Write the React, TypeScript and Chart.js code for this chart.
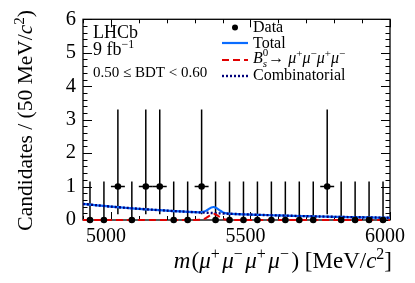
import React, { useEffect, useRef } from "react";
import { Chart, registerables } from "chart.js";
Chart.register(...registerables);

// ---- data ----
const binCenters = [4925, 4975, 5025, 5075, 5125, 5175, 5225, 5275, 5325, 5375, 5425, 5475, 5525, 5575, 5625, 5675, 5725, 5775, 5825, 5875, 5925, 5975];
const counts = [0, 0, 1, 0, 1, 1, 0, 0, 1, 0, 0, 0, 0, 0, 0, 0, 0, 1, 0, 0, 0, 0];
const errLow = [0, 0, 0.83, 0, 0.83, 0.83, 0, 0, 0.83, 0, 0, 0, 0, 0, 0, 0, 0, 0.83, 0, 0, 0, 0];
const errHigh = [1.15, 1.15, 2.3, 1.15, 2.3, 2.3, 1.15, 1.15, 2.3, 1.15, 1.15, 1.15, 1.15, 1.15, 1.15, 1.15, 1.15, 2.3, 1.15, 1.15, 1.15, 1.15];
const binHalfWidth = 25;

const curveMass = [4900, 4950, 5000, 5050, 5100, 5150, 5200, 5250, 5300, 5320, 5330, 5340, 5350, 5360, 5370, 5380, 5390, 5400, 5410, 5420, 5450, 5500, 5550, 5600, 5650, 5700, 5750, 5800, 5850, 5900, 5950, 6000];
const combinatorial = [0.48, 0.44, 0.40, 0.366, 0.335, 0.306, 0.28, 0.256, 0.234, 0.226, 0.222, 0.218, 0.214, 0.210, 0.207, 0.203, 0.199, 0.195, 0.192, 0.188, 0.178, 0.163, 0.149, 0.136, 0.125, 0.114, 0.104, 0.095, 0.087, 0.080, 0.073, 0.067];
const signalBs = [0, 0, 0, 0, 0, 0, 0, 0, 0, 0.005, 0.02, 0.055, 0.11, 0.165, 0.18, 0.145, 0.09, 0.04, 0.014, 0.004, 0, 0, 0, 0, 0, 0, 0, 0, 0, 0, 0, 0];
const total = [0.48, 0.44, 0.40, 0.366, 0.335, 0.306, 0.28, 0.256, 0.234, 0.231, 0.242, 0.273, 0.324, 0.375, 0.387, 0.348, 0.289, 0.235, 0.206, 0.192, 0.178, 0.163, 0.149, 0.136, 0.125, 0.114, 0.104, 0.095, 0.087, 0.080, 0.073, 0.067];

const xMin = 4900, xMax = 6000;
const yMin = 0, yMax = 6;
const xTickLabels = [5000, 5500, 6000];
const xMinorStep = 100;
const yTickLabels = [0, 1, 2, 3, 4, 5, 6];
const yMinorStep = 0.2;

const FONT = '"Liberation Serif", "Times New Roman", serif';
const BLUE = "#0a6cff";
const RED = "#e00000";
const NAVY = "#00007a";

type Seg = { t: string; it?: boolean; sup?: boolean; sub?: boolean; stack?: [string, string]; pad?: number };

function segFont(s: Seg, size: number, small: boolean) {
  return `${s.it ? "italic " : ""}${small ? Math.round(size * 0.68) : size}px ${FONT}`;
}

function segWidth(ctx: CanvasRenderingContext2D, s: Seg, size: number) {
  const pad = s.pad || 0;
  if (s.stack) {
    ctx.font = segFont({ t: "", it: true }, size, true);
    const a = ctx.measureText(s.stack[0]).width;
    ctx.font = segFont({ t: "", it: false }, size, true);
    const b = ctx.measureText(s.stack[1]).width;
    return Math.max(a, b) + pad;
  }
  ctx.font = segFont(s, size, !!(s.sup || s.sub));
  return ctx.measureText(s.t).width + pad;
}

function drawRich(ctx: CanvasRenderingContext2D, segs: Seg[], x: number, y: number, size: number, align: "left" | "right") {
  ctx.textBaseline = "alphabetic";
  ctx.textAlign = "left";
  let w = 0;
  for (const s of segs) w += segWidth(ctx, s, size);
  let cx = align === "right" ? x - w : x;
  for (const s of segs) {
    const sw = segWidth(ctx, s, size);
    if (s.stack) {
      ctx.font = segFont({ t: "", it: true }, size, true);
      ctx.fillText(s.stack[0], cx, y + size * 0.22);
      ctx.font = segFont({ t: "", it: false }, size, true);
      ctx.fillText(s.stack[1], cx, y - size * 0.42);
    } else {
      ctx.font = segFont(s, size, !!(s.sup || s.sub));
      const dy = s.sup ? -size * 0.38 : s.sub ? size * 0.22 : 0;
      ctx.fillText(s.t, cx, y + dy);
    }
    cx += sw;
  }
}

const muSegs = (pad: number): Seg[] => [
  { t: "\u03bc", it: true }, { t: "+", sup: true, pad },
  { t: "\u03bc", it: true }, { t: "\u2212", sup: true, pad },
  { t: "\u03bc", it: true }, { t: "+", sup: true, pad },
  { t: "\u03bc", it: true }, { t: "\u2212", sup: true, pad },
];

const decorPlugin = {
  id: "decor",
  beforeDatasetsDraw(chart: any) {
    const ctx: CanvasRenderingContext2D = chart.ctx;
    const xs = chart.scales.x, ys = chart.scales.y;
    const a = chart.chartArea;
    ctx.save();
    // frame and inward ticks
    ctx.strokeStyle = "#000";
    ctx.lineWidth = 1.3;
    ctx.strokeRect(a.left, a.top, a.right - a.left, a.bottom - a.top);
    ctx.lineWidth = 1;
    for (let v = xMin; v <= xMax + 1e-6; v += xMinorStep) {
      const major = xTickLabels.includes(Math.round(v));
      const len = major ? 8 : 4;
      const px = Math.round(xs.getPixelForValue(v)) + 0.5;
      ctx.beginPath();
      ctx.moveTo(px, a.bottom); ctx.lineTo(px, a.bottom - len);
      ctx.moveTo(px, a.top); ctx.lineTo(px, a.top + len);
      ctx.stroke();
    }
    for (let k = 0; k <= Math.round((yMax - yMin) / yMinorStep); k++) {
      const v = yMin + k * yMinorStep;
      const major = Math.abs(v - Math.round(v)) < 1e-6;
      const len = major ? 9 : 4.5;
      const py = Math.round(ys.getPixelForValue(v)) + 0.5;
      ctx.beginPath();
      ctx.moveTo(a.left, py); ctx.lineTo(a.left + len, py);
      ctx.moveTo(a.right, py); ctx.lineTo(a.right - len, py);
      ctx.stroke();
    }
    // error bars
    ctx.beginPath();
    ctx.rect(a.left, a.top, a.right - a.left, a.bottom - a.top + 2);
    ctx.clip();
    ctx.lineWidth = 1.5;
    for (let i = 0; i < binCenters.length; i++) {
      const px = xs.getPixelForValue(binCenters[i]);
      ctx.beginPath();
      ctx.moveTo(px, ys.getPixelForValue(counts[i] - errLow[i]));
      ctx.lineTo(px, ys.getPixelForValue(counts[i] + errHigh[i]));
      ctx.stroke();
      if (counts[i] > 0) {
        const py = ys.getPixelForValue(counts[i]);
        ctx.beginPath();
        ctx.moveTo(xs.getPixelForValue(binCenters[i] - binHalfWidth), py);
        ctx.lineTo(xs.getPixelForValue(binCenters[i] + binHalfWidth), py);
        ctx.stroke();
      }
    }
    ctx.restore();
  },
  afterDraw(chart: any) {
    const ctx: CanvasRenderingContext2D = chart.ctx;
    ctx.save();
    ctx.fillStyle = "#000";
    drawRich(ctx, [
      { t: "m", it: true, pad: 1 }, { t: "(" }, ...muSegs(2.5), { t: ") [MeV/" }, { t: "c", it: true }, { t: "2", sup: true }, { t: "]" },
    ], 392, 268, 23, "right");
    ctx.save();
    ctx.translate(32, 10);
    ctx.rotate(-Math.PI / 2);
    drawRich(ctx, [
      { t: "Candidates / (50 MeV/" }, { t: "c", it: true }, { t: "2", sup: true }, { t: ")" },
    ], 0, 0, 21.5, "right");
    ctx.restore();
    drawRich(ctx, [{ t: "LHCb" }], 93, 38, 18, "left");
    drawRich(ctx, [{ t: "9 fb" }, { t: "\u22121", sup: true }], 93, 55, 18, "left");
    drawRich(ctx, [{ t: "0.50 \u2264 BDT < 0.60" }], 93, 77, 15, "left");
    const lx0 = 222, lx1 = 248, tx = 253;
    ctx.beginPath();
    ctx.arc(235, 27.5, 3, 0, Math.PI * 2);
    ctx.fill();
    drawRich(ctx, [{ t: "Data" }], tx, 32, 16, "left");
    ctx.lineWidth = 2.2;
    ctx.strokeStyle = BLUE;
    ctx.beginPath(); ctx.moveTo(lx0, 43); ctx.lineTo(lx1, 43); ctx.stroke();
    drawRich(ctx, [{ t: "Total" }], tx, 48, 16, "left");
    ctx.strokeStyle = RED;
    ctx.setLineDash([7, 4]);
    ctx.beginPath(); ctx.moveTo(lx0, 60); ctx.lineTo(lx1, 60); ctx.stroke();
    drawRich(ctx, [{ t: "B", it: true }, { t: "", stack: ["s", "0"] }, { t: "\u2192 " }, ...muSegs(0)], tx, 63, 16, "left");
    ctx.strokeStyle = NAVY;
    ctx.lineWidth = 2.4;
    ctx.setLineDash([2, 2]);
    ctx.beginPath(); ctx.moveTo(lx0, 76); ctx.lineTo(lx1, 76); ctx.stroke();
    ctx.setLineDash([]);
    drawRich(ctx, [{ t: "Combinatorial" }], tx, 80, 16, "left");
    ctx.restore();
  },
};

export default function App() {
  const ref = useRef<HTMLCanvasElement>(null);
  useEffect(() => {
    if (!ref.current) return;
    const pts = (ys: number[]) => curveMass.map((m, i) => ({ x: m, y: ys[i] }));
    const chart = new Chart(ref.current, {
      type: "scatter",
      data: {
        datasets: [
          {
            label: "Data",
            data: binCenters.map((b, i) => ({ x: b, y: counts[i] })),
            pointRadius: 3.3,
            pointBackgroundColor: "#000",
            pointBorderColor: "#000",
            pointBorderWidth: 0,
            showLine: false,
            clip: 5,
          } as any,
          {
            label: "Bs",
            type: "line",
            data: pts(signalBs),
            borderColor: RED,
            borderWidth: 2,
            borderDash: [7, 4],
            pointRadius: 0,
            tension: 0.3,
            fill: false,
            clip: { left: 0, top: 0, right: 0, bottom: 2 },
          },
          {
            label: "Combinatorial",
            type: "line",
            data: pts(combinatorial),
            borderColor: NAVY,
            borderWidth: 2.4,
            borderDash: [2, 2],
            pointRadius: 0,
            tension: 0.3,
            fill: false,
          },
          {
            label: "Total",
            type: "line",
            data: pts(total),
            borderColor: BLUE,
            borderWidth: 2.2,
            pointRadius: 0,
            tension: 0.3,
            fill: false,
          },
        ],
      },
      options: {
        responsive: false,
        animation: false,
        devicePixelRatio: 1,
        layout: { padding: { left: 0, right: 24.5, top: 15, bottom: 0 } },
        plugins: { legend: { display: false }, tooltip: { enabled: false } },
        scales: {
          x: {
            type: "linear",
            min: xMin,
            max: xMax,
            grid: { display: false, drawTicks: false },
            border: { display: false },
            afterBuildTicks: (s: any) => { s.ticks = xTickLabels.map((v) => ({ value: v })); },
            afterFit: (s: any) => { s.height = 63; },
            ticks: { color: "#000", font: { family: FONT, size: 20 }, padding: 5, labelOffset: -5, maxRotation: 0, autoSkip: false, callback: (v: any) => String(v) },
          },
          y: {
            type: "linear",
            min: yMin,
            max: yMax,
            grid: { display: false, drawTicks: false },
            border: { display: false },
            afterBuildTicks: (s: any) => { s.ticks = yTickLabels.map((v) => ({ value: v })); },
            afterFit: (s: any) => { s.width = 83; },
            ticks: { color: "#000", font: { family: FONT, size: 20.5 }, padding: 7, callback: (v: any) => String(v) },
          },
        },
      } as any,
      plugins: [decorPlugin],
    });
    return () => chart.destroy();
  }, []);
  return (
    <div style={{ position: "absolute", left: 0, top: 0, width: 415, height: 283, background: "#fff" }}>
      <canvas ref={ref} width={415} height={283} />
    </div>
  );
}
